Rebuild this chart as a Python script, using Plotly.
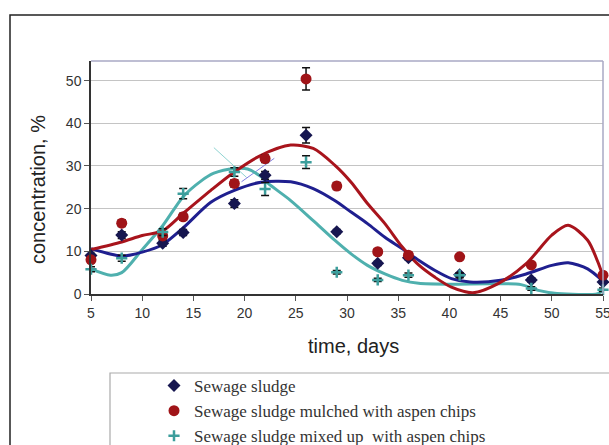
import plotly.graph_objects as go

# ---- data ----
days = [5, 8, 12, 14, 19, 22, 26, 29, 33, 36, 41, 48, 55]
sludge = [9.0, 13.8, 11.9, 14.4, 21.2, 27.8, 37.2, 14.6, 7.2, 8.5, 4.5, 3.3, 2.8]
sludge_err = [0.5, 0.8, 0.7, 0.7, 0.9, 0.9, 1.8, 0.5, 0.5, 0.5, 0.5, 0.5, 0.5]
mulched = [8.0, 16.6, 13.6, 18.1, 25.9, 31.7, 50.4, 25.3, 9.9, 9.1, 8.7, 6.8, 4.4]
mulched_err = [0.7, 0.8, 0.8, 0.8, 0.9, 0.9, 2.6, 0.8, 0.7, 0.7, 0.5, 0.5, 0.5]
mixed = [5.8, 8.4, 14.5, 23.5, 28.6, 24.6, 30.9, 5.1, 3.3, 4.4, 4.4, 1.3, 1.0]
mixed_err = [0.6, 0.7, 0.8, 1.2, 1.0, 1.5, 1.5, 0.4, 0.4, 0.5, 0.6, 0.4, 0.4]

# trend curves
sludge_trend_x = [5, 8, 10, 12, 14, 16.7, 19, 21.6, 24.5, 26.7, 28.8, 30.4, 32, 33.7, 35.4, 37, 38.6, 40.2, 42, 45, 47.5, 50, 51.6, 53.5, 55]
sludge_trend_y = [10.6, 8.9, 9.8, 11.6, 15.5, 21.5, 24.3, 26.2, 26.3, 24.7, 21.9, 19.2, 16.5, 13.3, 10.6, 7.9, 5.5, 3.6, 2.8, 3.2, 4.7, 6.7, 7.3, 5.9, 3.0]
mulched_trend_x = [5, 8, 10, 12, 14, 16.7, 19, 21.6, 24.5, 26.7, 28.8, 30.4, 32, 33.7, 35.4, 37, 38.6, 40.2, 42.3, 44.8, 47.5, 50, 51.6, 53.5, 54.5, 55]
mulched_trend_y = [10.4, 12.2, 13.7, 14.8, 18.9, 24.3, 28.6, 32.5, 34.9, 34.1, 30.2, 26.2, 21.2, 16.5, 11.0, 6.8, 3.9, 1.6, 0.3, 2.5, 7.1, 13.8, 16.1, 12.6, 7.5, 4.2]
mixed_trend_x = [5, 6.9, 8, 10, 12, 14, 15.7, 17, 19, 20.3, 21.6, 22.3, 24.5, 26.7, 28.8, 30.4, 32, 33.7, 35.4, 37, 40, 44, 47, 48.8, 50.5, 54.5, 55]
mixed_trend_y = [5.9, 4.4, 5.0, 10.4, 16.0, 22.8, 26.4, 28.3, 29.4, 29.3, 27.5, 25.9, 21.9, 17.2, 12.6, 9.4, 6.7, 4.7, 3.2, 2.5, 2.3, 2.4, 2.2, 0.8, 0.1, 0.1, 1.0]

# thin stray line fragments visible in the picture
stray_teal_x = [17.0, 20.2]
stray_teal_y = [34.3, 27.3]
stray_blue_x = [19.7, 22.9]
stray_blue_y = [26.3, 31.8]

x_ticks = [5, 10, 15, 20, 25, 30, 35, 40, 45, 50, 55]
y_ticks = [0, 10, 20, 30, 40, 50]

names = ["Sewage sludge",
         "Sewage sludge mulched with aspen chips",
         "Sewage sludge mixed up  with aspen chips"]

NAVY_LINE = "#1f1f8f"
NAVY_MARK = "#161650"
RED_LINE = "#a8141c"
RED_MARK = "#a01418"
TEAL_LINE = "#4fb0ae"
TEAL_MARK = "#3c9e9c"

fig = go.Figure()

# stray thin lines
fig.add_trace(go.Scatter(x=stray_teal_x, y=stray_teal_y, mode="lines",
                         line=dict(color="#8fd4d2", width=1), showlegend=False, hoverinfo="skip"))
fig.add_trace(go.Scatter(x=stray_blue_x, y=stray_blue_y, mode="lines",
                         line=dict(color="#8080e0", width=1), showlegend=False, hoverinfo="skip"))

# trend curves
fig.add_trace(go.Scatter(x=mixed_trend_x, y=mixed_trend_y, mode="lines",
                         line=dict(color=TEAL_LINE, width=3, shape="spline", smoothing=0.8),
                         showlegend=False, hoverinfo="skip"))
fig.add_trace(go.Scatter(x=sludge_trend_x, y=sludge_trend_y, mode="lines",
                         line=dict(color=NAVY_LINE, width=3, shape="spline", smoothing=0.8),
                         showlegend=False, hoverinfo="skip"))
fig.add_trace(go.Scatter(x=mulched_trend_x, y=mulched_trend_y, mode="lines",
                         line=dict(color=RED_LINE, width=3, shape="spline", smoothing=0.8),
                         showlegend=False, hoverinfo="skip"))

err_style = dict(type="data", color="#111111", thickness=1.5, width=4)

fig.add_trace(go.Scatter(x=days, y=sludge, mode="markers", name=names[0],
                         marker=dict(symbol="diamond", size=10, color=NAVY_MARK),
                         error_y=dict(array=sludge_err, **err_style), cliponaxis=False))
fig.add_trace(go.Scatter(x=days, y=mulched, mode="markers", name=names[1],
                         marker=dict(symbol="circle", size=11, color=RED_MARK),
                         error_y=dict(array=mulched_err, **err_style), cliponaxis=False))
fig.add_trace(go.Scatter(x=days, y=mixed, mode="markers", name=names[2],
                         marker=dict(symbol="cross-thin", size=8, color=TEAL_MARK,
                                     line=dict(color=TEAL_MARK, width=2.5)),
                         error_y=dict(array=mixed_err, **err_style), cliponaxis=False))

L, R, T, B = 91, 6, 61, 151
W, H = 609, 445
pw, ph = W - L - R, H - T - B


def px_x(p):
    return (p - L) / pw


def px_y(p):
    return (H - B - p) / ph


tickfont = dict(family="Liberation Sans, Arial", size=14, color="#333333")

fig.update_layout(
    width=W, height=H,
    margin=dict(l=L, r=R, t=T, b=B, pad=0, autoexpand=False),
    paper_bgcolor="white", plot_bgcolor="white",
    showlegend=True,
    legend=dict(x=px_x(154), y=px_y(368), xanchor="left", yanchor="top",
                font=dict(family="Liberation Serif, Times New Roman", size=17, color="#333333"),
                bgcolor="rgba(0,0,0,0)", borderwidth=0, tracegroupgap=0),
    xaxis=dict(range=[5, 55], tickvals=x_ticks, ticktext=[str(v) for v in x_ticks],
               showgrid=False, zeroline=False, showline=True, linecolor="#333333", linewidth=1.5,
               ticks="outside", ticklen=5, tickcolor="#555555", tickfont=tickfont, automargin=False,
               ticklabeloverflow="allow"),
    yaxis=dict(range=[0, 54.6], tickvals=y_ticks, showgrid=True, gridcolor="#c4c4c4", gridwidth=1.2,
               zeroline=False, showline=True, linecolor="#333333", linewidth=1.5,
               ticks="outside", ticklen=5, tickcolor="#555555", tickfont=tickfont, automargin=False),
    shapes=[
        # plot area top/right border
        dict(type="line", xref="paper", yref="paper", x0=0, x1=1, y0=1, y1=1,
             line=dict(color="#a8a8c4", width=1.5)),
        dict(type="line", xref="paper", yref="paper", x0=1, x1=1, y0=0, y1=1,
             line=dict(color="#a8a8c4", width=1.5)),
        # outer chart frame
        dict(type="rect", xref="paper", yref="paper", x0=px_x(10), x1=px_x(640),
             y0=px_y(480), y1=px_y(15), line=dict(color="#222222", width=1.5), layer="below"),
        # legend box
        dict(type="rect", xref="paper", yref="paper", x0=px_x(110), x1=px_x(640),
             y0=px_y(480), y1=px_y(373), line=dict(color="#aaaaaa", width=1.2), layer="below"),
    ],
    annotations=[
        dict(text="concentration, %", xref="paper", yref="paper", x=px_x(38), y=px_y(190),
             textangle=-90, showarrow=False, xanchor="center", yanchor="middle",
             font=dict(family="Liberation Sans, Arial", size=20, color="#222222")),
        dict(text="time, days", xref="paper", yref="paper", x=px_x(353), y=px_y(346),
             showarrow=False, xanchor="center", yanchor="middle",
             font=dict(family="Liberation Sans, Arial", size=20, color="#222222")),
    ],
)

fig.write_html("out.html", config={"displayModeBar": False},
               post_script="document.body.style.margin='0';document.body.style.overflow='hidden';")
